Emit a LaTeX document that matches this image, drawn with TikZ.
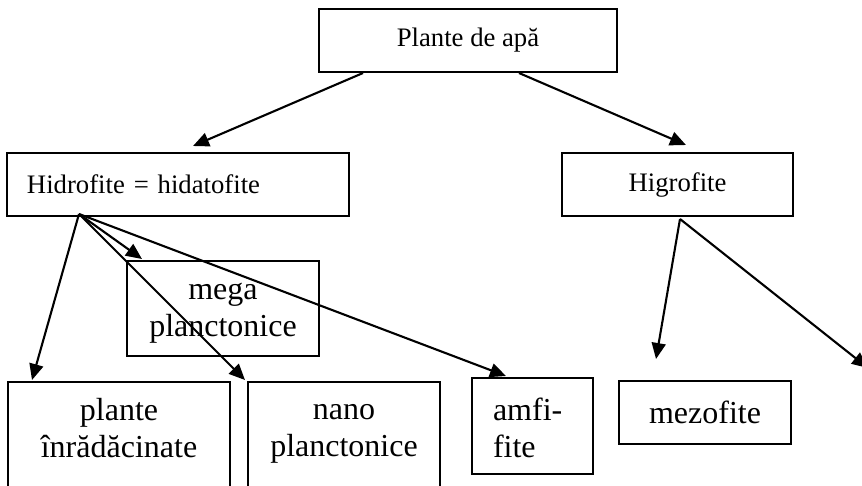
\documentclass[tikz,border=0pt]{standalone}
\usepackage{fontspec}
\setmainfont{Liberation Serif}
\usepackage{xcolor}
\usepackage{tikz}
\usetikzlibrary{calc,arrows.meta,positioning}
\definecolor{cLine}{RGB}{0,0,0}

\begin{document}
\begin{tikzpicture}[x=1pt,y=-1pt,
  box/.style={draw=cLine,line width=2pt,inner sep=0pt,align=center},
  sm/.style={font=\fontsize{26.7}{30}\selectfont},
  bg/.style={font=\fontsize{32}{37}\selectfont},
  arr/.style={cLine,line width=2.1pt,-{Triangle[length=16pt,width=14pt]}}]
  \useasboundingbox (0,0) rectangle (862,485);
  \clip (0,0) rectangle (862,485);
  % upper levels
  \node[box,sm,minimum width=298pt,minimum height=63pt] (apa) at (468,40.5) {Plante de apă};
  \node[box,sm,minimum height=63pt,text width=302pt,inner xsep=20pt,align=left] (hidro) at (178,184.5) {Hidrofite = hidatofite};
  \node[box,sm,minimum width=231pt,minimum height=63pt] (higro) at (677.5,184.5) {Higrofite};
  % lower boxes
  \node[box,bg,minimum width=192pt,minimum height=95pt] (mega) at (223,308.5) {\strut mega\\planctonice};
  \node[box,minimum width=222pt,minimum height=130pt,anchor=north west] (plante) at (7,381) {};
  \node[bg,align=center,inner sep=0pt] (plantetxt) at ($(plante.north)+(0,45)$) {\strut plante\\înrădăcinate};
  \node[box,minimum width=192pt,minimum height=130pt,anchor=north west] (nano) at (247,381) {};
  \node[bg,align=center,inner sep=0pt] (nanotxt) at ($(nano.north)+(0,47)$) {\strut nano\\planctonice};
  \node[box,bg,minimum height=96pt,text width=79pt,inner xsep=21pt,align=left] (amfi) at (532.5,426) {\strut amfi-\\fite};
  \node[box,bg,minimum width=172pt,minimum height=63pt] (mezo) at (705,412.5) {mezofite};
  % arrows
  \draw[arr] ($(apa.south west)!0.15!(apa.south east)$) -- ($(hidro.north west)+(187,-6)$);
  \draw[arr] ($(apa.south west)!0.67!(apa.south east)$) -- ($(higro.north west)+(125,-7)$);
  \coordinate (hs) at ($(hidro.south west)+(73,-3)$);
  \foreach \t/\dx/\dy in {plante/25/-1,mega/16/-1,nano/-2/-1,amfi/35/-1}
    \draw[arr] (hs) -- ($(\t.north west)+(\dx,\dy)$);
  \coordinate (gs) at ($(higro.south west)+(119,2)$);
  \coordinate (gout) at (868,368);
  \draw[arr] (gs) -- ($(mezo.north west)+(38,-21)$);
  \draw[arr] (gs) -- (gout);
\end{tikzpicture}
\end{document}
